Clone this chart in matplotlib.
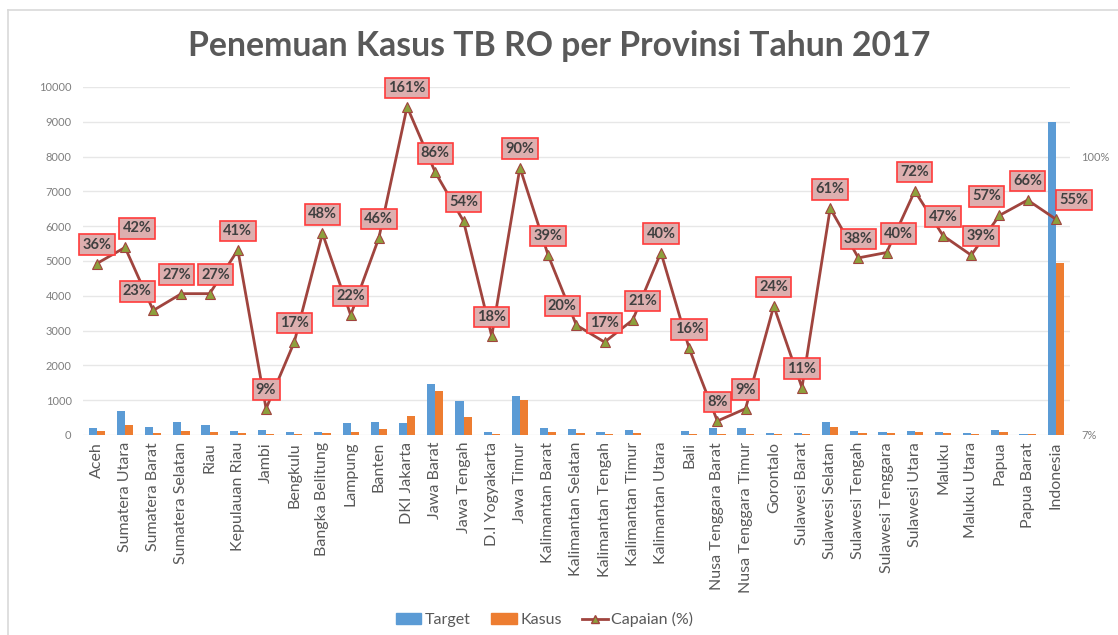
import numpy as np
import matplotlib
matplotlib.use("Agg")
import matplotlib.pyplot as plt
from matplotlib.lines import Line2D
from matplotlib.patches import Patch

plt.rcParams['font.family'] = ['Lato', 'DejaVu Sans']

# data
provinsi = ["Aceh", "Sumatera Utara", "Sumatera Barat", "Sumatera Selatan", "Riau",
            "Kepulauan Riau", "Jambi", "Bengkulu", "Bangka Belitung", "Lampung",
            "Banten", "DKI Jakarta", "Jawa Barat", "Jawa Tengah", "D.I Yogyakarta",
            "Jawa Timur", "Kalimantan Barat", "Kalimantan Selatan", "Kalimantan Tengah",
            "Kalimantan Timur", "Kalimantan Utara", "Bali", "Nusa Tenggara Barat",
            "Nusa Tenggara Timur", "Gorontalo", "Sulawesi Barat", "Sulawesi Selatan",
            "Sulawesi Tengah", "Sulawesi Tenggara", "Sulawesi Utara", "Maluku",
            "Maluku Utara", "Papua", "Papua Barat", "Indonesia"]
target = [210, 690, 240, 375, 300, 125, 155, 85, 75, 345, 375, 345, 1460, 980, 95,
          1125, 190, 180, 95, 155, 10, 115, 210, 210, 60, 60, 365, 115, 95, 105, 75,
          60, 135, 40, 9000]
kasus = [100, 280, 65, 105, 85, 65, 20, 15, 55, 75, 165, 550, 1270, 530, 20,
         1000, 95, 50, 30, 50, 10, 20, 20, 20, 20, 20, 220, 50, 50, 85, 55,
         30, 95, 20, 4950]
capaian = [36, 42, 23, 27, 27, 41, 9, 17, 48, 22, 46, 161, 86, 54, 18, 90, 39, 20,
           17, 21, 40, 16, 8, 9, 24, 11, 61, 38, 40, 72, 47, 39, 57, 66, 55]

# label shifts in pixels (x) relative to each point
label_dx = [0, 12, -16, -5, 6, 0, 0, 0, 0, 0, 0, 0, 0, 0, 0, 0, 0, -14, 0, 10, 0,
            0, 0, 0, 0, 0, 0, 0, 12, 0, 0, 10, -13, 0, 18]

c_blue = "#5B9BD5"
c_orange = "#ED7D31"
c_line = "#A0443E"
c_marker = "#8DA03C"
c_text = "#595959"

fig = plt.figure(figsize=(11.18, 6.35), dpi=100)
ax = fig.add_axes([0.074, 0.315, 0.883, 0.548])
x = np.arange(len(provinsi))
w = 0.29
ax.bar(x - w / 2, target, w, color=c_blue, zorder=2)
ax.bar(x + w / 2, kasus, w, color=c_orange, zorder=2)
ax.set_xlim(-0.5, len(provinsi) - 0.5)
ax.set_ylim(0, 10000)
ax.set_yticks(np.arange(0, 10001, 1000))
ax.grid(axis='y', color="#E7E7E7", linewidth=1, zorder=0)
for s in ax.spines.values():
    s.set_visible(False)
ax.tick_params(length=0)
ax.tick_params(axis='y', labelsize=8, labelcolor="#7F7F7F", pad=8)
ax.tick_params(axis='x', pad=5)
ax.set_xticks(x)
ax.set_xticklabels(provinsi, rotation=90, fontsize=11.5, color=c_text)

ax2 = ax.twinx()
ax2.set_yscale('log')
top = 0.07 * (1 / 0.07) ** 1.25
ax2.set_ylim(0.07, top)
ax2.plot(x, np.array(capaian) / 100, color=c_line, linewidth=2, marker='^',
         markersize=7, markerfacecolor=c_marker, markeredgecolor=c_line,
         markeredgewidth=0.8, zorder=3)
ax2.set_yticks([0.07, 1.0])
ax2.set_yticklabels(["7%", "100%"])
ax2.yaxis.set_minor_locator(matplotlib.ticker.NullLocator())
ax2.tick_params(length=0, labelsize=8, labelcolor="#7F7F7F", pad=8)
for s in ax2.spines.values():
    s.set_visible(False)

for i, v in enumerate(capaian):
    ax2.annotate(f"{v}%", (x[i], v / 100), xytext=(label_dx[i], 19),
                 textcoords='offset pixels', ha='center', va='center',
                 fontsize=10.5, fontweight='bold', color="#404040",
                 bbox=dict(boxstyle='square,pad=0.22', facecolor="#DDAFAF",
                           edgecolor="#FF3B3B", linewidth=1.2), zorder=4)

fig.text(0.5, 0.928, "Penemuan Kasus TB RO per Provinsi Tahun 2017", ha='center',
         va='center', fontsize=24.3, fontweight='bold', color=c_text)

handles = [Patch(color=c_blue, label="Target"), Patch(color=c_orange, label="Kasus"),
           Line2D([], [], color=c_line, linewidth=2, marker='^', markersize=6,
                  markerfacecolor=c_marker, markeredgecolor=c_line, label="Capaian (%)")]
fig.legend(handles=handles, loc='center', bbox_to_anchor=(0.487, 0.024), ncol=3,
           frameon=False, fontsize=11.5, labelcolor=c_text, handlelength=1.6,
           handleheight=0.7, handletextpad=0.2, columnspacing=1.3)

# light frame of the chart area
fig.add_artist(Line2D([0.007, 0.007], [0, 0.984], color="#D9D9D9", linewidth=1.2))
fig.add_artist(Line2D([0.007, 1], [0.984, 0.984], color="#D9D9D9", linewidth=1.2))

fig.savefig("out.png", dpi=100)
